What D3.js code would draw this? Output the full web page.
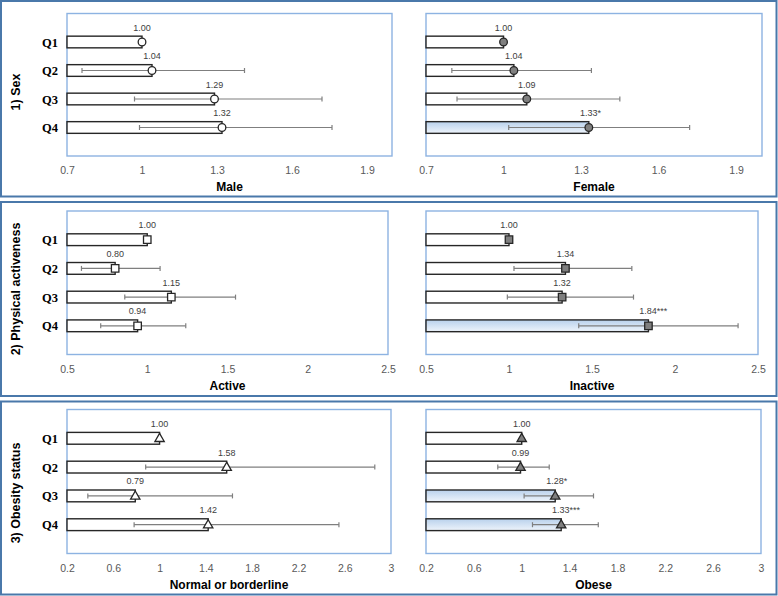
<!DOCTYPE html>
<html>
<head>
<meta charset="utf-8">
<script src="https://cdn.jsdelivr.net/npm/d3@7"></script>
<style>
  body { margin: 0; background: #fff; }
</style>
</head>
<body>
<div id="chart"></div>
<script>
const quartiles = ['Q1', 'Q2', 'Q3', 'Q4'];

// odds ratio, lower / upper 95% CI, significance stars
const maleOR = [1.00, 1.04, 1.29, 1.32];
const maleLo = [null, 0.76, 0.97, 0.99];
const maleHi = [null, 1.41, 1.72, 1.76];
const maleSig = ['', '', '', ''];

const femaleOR = [1.00, 1.04, 1.09, 1.33];
const femaleLo = [null, 0.80, 0.82, 1.02];
const femaleHi = [null, 1.34, 1.45, 1.72];
const femaleSig = ['', '', '', '*'];

const activeOR = [1.00, 0.80, 1.15, 0.94];
const activeLo = [null, 0.59, 0.86, 0.71];
const activeHi = [null, 1.08, 1.55, 1.24];
const activeSig = ['', '', '', ''];

const inactiveOR = [1.00, 1.34, 1.32, 1.84];
const inactiveLo = [null, 1.03, 0.99, 1.42];
const inactiveHi = [null, 1.74, 1.75, 2.38];
const inactiveSig = ['', '', '', '***'];

const normalOR = [1.00, 1.58, 0.79, 1.42];
const normalLo = [null, 0.88, 0.38, 0.78];
const normalHi = [null, 2.86, 1.63, 2.55];
const normalSig = ['', '', '', ''];

const obeseOR = [1.00, 0.99, 1.28, 1.33];
const obeseLo = [null, 0.80, 1.02, 1.09];
const obeseHi = [null, 1.23, 1.60, 1.64];
const obeseSig = ['', '', '*', '***'];

const sexTicks = [0.7, 1, 1.3, 1.6, 1.9];
const activityTicks = [0.5, 1, 1.5, 2, 2.5];
const obesityTicks = [0.2, 0.6, 1, 1.4, 1.8, 2.2, 2.6, 3];

const sexDomain = [0.7, 2.0];
const activityDomain = [0.5, 2.5];
const obesityDomain = [0.2, 3.0];

const rowTitles = ['1) Sex', '2) Physical activeness', '3) Obesity status'];

const W = 778, H = 596;

const svg = d3.select('#chart').append('svg')
  .attr('width', W).attr('height', H)
  .style('font-family', '"Liberation Sans", Arial, sans-serif');

const defs = svg.append('defs');
const grad = defs.append('linearGradient')
  .attr('id', 'sigFill')
  .attr('x1', 0).attr('y1', 0).attr('x2', 0).attr('y2', 1);
grad.append('stop').attr('offset', '0%').attr('stop-color', '#b9d1ec');
grad.append('stop').attr('offset', '100%').attr('stop-color', '#eef4fb');

// row layout (outer box + plot frame)
const rowLayout = [
  { box: [1, 196.5], frame: [13.5, 156], titleY: 92, left: [67, 392], right: [426, 762] },
  { box: [202, 396], frame: [211, 354.5], titleY: 289, left: [67, 388], right: [426, 758] },
  { box: [401.5, 594.5], frame: [409.5, 553.5], titleY: 493, left: [67, 391], right: [426, 761] }
];

const rows = [
  {
    title: rowTitles[0], ticks: sexTicks, domain: sexDomain, symbol: d3.symbolCircle, size: 46,
    panels: [
      { name: 'Male', or: maleOR, lo: maleLo, hi: maleHi, sig: maleSig, fill: '#ffffff' },
      { name: 'Female', or: femaleOR, lo: femaleLo, hi: femaleHi, sig: femaleSig, fill: '#7f7f7f' }
    ]
  },
  {
    title: rowTitles[1], ticks: activityTicks, domain: activityDomain, symbol: d3.symbolSquare, size: 56,
    panels: [
      { name: 'Active', or: activeOR, lo: activeLo, hi: activeHi, sig: activeSig, fill: '#ffffff' },
      { name: 'Inactive', or: inactiveOR, lo: inactiveLo, hi: inactiveHi, sig: inactiveSig, fill: '#7f7f7f' }
    ]
  },
  {
    title: rowTitles[2], ticks: obesityTicks, domain: obesityDomain, symbol: d3.symbolTriangle, size: 38,
    panels: [
      { name: 'Normal or borderline', or: normalOR, lo: normalLo, hi: normalHi, sig: normalSig, fill: '#ffffff' },
      { name: 'Obese', or: obeseOR, lo: obeseLo, hi: obeseHi, sig: obeseSig, fill: '#7f7f7f' }
    ]
  }
];

rows.forEach((row, r) => {
  const lay = rowLayout[r];
  const g = svg.append('g');

  // outer box
  g.append('rect')
    .attr('x', 1).attr('y', lay.box[0])
    .attr('width', W - 2.5).attr('height', lay.box[1] - lay.box[0])
    .attr('fill', 'none')
    .attr('stroke', '#4a78aa')
    .attr('stroke-width', 2);

  // row title
  g.append('text')
    .attr('transform', `translate(20, ${lay.titleY}) rotate(-90)`)
    .attr('text-anchor', 'middle')
    .style('font-size', '12.5px')
    .style('font-weight', 'bold')
    .attr('fill', '#000')
    .text(row.title);

  const y = d3.scaleLinear()
    .domain([0, 5])
    .range(lay.frame);
  const barH = (y(1) - y(0)) * 0.41;

  // category labels (left panel only)
  g.selectAll('.qlab')
    .data(quartiles)
    .enter()
    .append('text')
    .attr('class', 'qlab')
    .attr('x', 58)
    .attr('y', (d, i) => y(i + 1) + 4.5)
    .attr('text-anchor', 'end')
    .style('font-family', '"Liberation Serif", "Times New Roman", serif')
    .style('font-size', '12.5px')
    .style('font-weight', 'bold')
    .text(d => d);

  row.panels.forEach((p, k) => {
    const xr = k === 0 ? lay.left : lay.right;
    const x = d3.scaleLinear().domain(row.domain).range(xr);
    const pg = g.append('g');

    // plot frame
    pg.append('rect')
      .attr('x', xr[0]).attr('y', lay.frame[0])
      .attr('width', xr[1] - xr[0]).attr('height', lay.frame[1] - lay.frame[0])
      .attr('fill', 'none')
      .attr('stroke', '#8db3e2')
      .attr('stroke-width', 1.4);

    // x axis tick labels
    const axis = pg.append('g')
      .attr('transform', `translate(0, ${lay.frame[1]})`)
      .call(d3.axisBottom(x).tickValues(row.ticks).tickSize(0).tickPadding(11).tickFormat(d3.format('')));
    axis.select('.domain').remove();
    axis.selectAll('text')
      .style('font-family', '"Liberation Sans", Arial, sans-serif')
      .style('font-size', '10.5px')
      .attr('fill', '#595959');

    // axis title
    pg.append('text')
      .attr('x', (xr[0] + xr[1]) / 2)
      .attr('y', lay.frame[1] + 35)
      .attr('text-anchor', 'middle')
      .style('font-size', '12px')
      .style('font-weight', 'bold')
      .text(p.name);

    const data = quartiles.map((q, i) => ({
      q, i, or: p.or[i], lo: p.lo[i], hi: p.hi[i], sig: p.sig[i]
    }));

    // bars
    pg.selectAll('.bar')
      .data(data)
      .enter()
      .append('rect')
      .attr('class', 'bar')
      .attr('x', x(row.domain[0]))
      .attr('y', d => y(d.i + 1) - barH / 2)
      .attr('width', d => x(d.or) - x(row.domain[0]))
      .attr('height', barH)
      .attr('fill', d => d.sig ? 'url(#sigFill)' : '#ffffff')
      .attr('stroke', '#262626')
      .attr('stroke-width', 1.4);

    // error bars
    const eb = pg.selectAll('.err')
      .data(data.filter(d => d.lo != null))
      .enter()
      .append('g')
      .attr('class', 'err')
      .attr('stroke', '#7f7f7f')
      .attr('stroke-width', 1.2);
    eb.append('line')
      .attr('x1', d => x(d.lo)).attr('x2', d => x(d.hi))
      .attr('y1', d => y(d.i + 1)).attr('y2', d => y(d.i + 1));
    eb.append('line')
      .attr('x1', d => x(d.lo)).attr('x2', d => x(d.lo))
      .attr('y1', d => y(d.i + 1) - 2.5).attr('y2', d => y(d.i + 1) + 2.5);
    eb.append('line')
      .attr('x1', d => x(d.hi)).attr('x2', d => x(d.hi))
      .attr('y1', d => y(d.i + 1) - 2.5).attr('y2', d => y(d.i + 1) + 2.5);

    // markers
    pg.selectAll('.mk')
      .data(data)
      .enter()
      .append('path')
      .attr('class', 'mk')
      .attr('d', d3.symbol().type(row.symbol).size(row.size))
      .attr('transform', d => `translate(${x(d.or)}, ${y(d.i + 1) + (row.symbol === d3.symbolTriangle ? 0.5 : 0)})`)
      .attr('fill', p.fill)
      .attr('stroke', '#262626')
      .attr('stroke-width', 1.3);

    // value labels
    pg.selectAll('.val')
      .data(data)
      .enter()
      .append('text')
      .attr('class', 'val')
      .attr('x', d => x(d.or) + (d.sig ? d.sig.length * 1.6 : 0))
      .attr('y', d => y(d.i + 1) - 11.5)
      .attr('text-anchor', 'middle')
      .style('font-size', '9px')
      .attr('fill', '#404040')
      .text(d => d.or.toFixed(2) + d.sig);
  });
});
</script>
</body>
</html>
